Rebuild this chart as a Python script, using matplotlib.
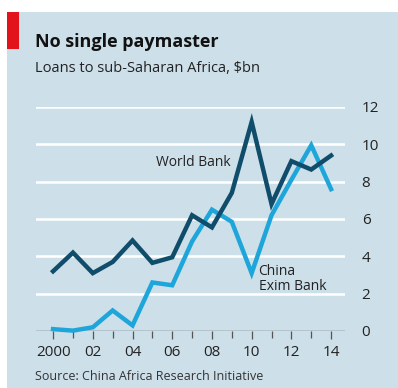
import matplotlib.pyplot as plt
from matplotlib.patches import Rectangle

years = list(range(2000, 2015))
world_bank = [3.2, 4.2, 3.1, 3.7, 4.85, 3.65, 3.95, 6.2, 5.55, 7.4, 11.2, 6.8, 9.1, 8.65, 9.4]
china_exim = [0.1, 0.02, 0.2, 1.1, 0.3, 2.6, 2.45, 4.8, 6.5, 5.85, 3.1, 6.2, 8.1, 9.95, 7.6]
xtick_years = [2000, 2002, 2004, 2006, 2008, 2010, 2012, 2014]
xtick_labels = ['2000', '02', '04', '06', '08', '10', '12', '14']
yticks = [0, 2, 4, 6, 8, 10, 12]

plt.rcParams['font.family'] = ['Open Sans', 'DejaVu Sans']

bg = '#cddfe9'
dark = '#0f4d6b'
light = '#1ea6da'
W, H = 398, 388

fig = plt.figure(figsize=(W / 100, H / 100), dpi=100, facecolor='white')
fig.patches.append(Rectangle((7 / W, 0), 1, 1 - 12 / H, transform=fig.transFigure,
                             facecolor=bg, edgecolor='none', zorder=-2))
fig.patches.append(Rectangle((7 / W, 1 - 49 / H), 12 / W, 37 / H, transform=fig.transFigure,
                             facecolor='#e3131b', edgecolor='none', zorder=-1))

ax = fig.add_axes([36 / W, 1 - 331 / H, (345 - 36) / W, (331 - 107) / H])
ax.set_facecolor('none')
ax.set_xlim(1999.14, 2014.7)
ax.set_ylim(0, 12)

for y in yticks[1:]:
    ax.axhline(y, color='white', lw=1.8, zorder=1)
ax.axhline(0, color='#555555', lw=1.0, zorder=2)

ax.plot(years, world_bank, color=dark, lw=3.2, zorder=4, solid_joinstyle='miter', clip_on=False)
ax.plot(years, china_exim, color=light, lw=3.2, zorder=3, solid_joinstyle='miter', clip_on=False)

for s in ax.spines.values():
    s.set_visible(False)

ax.set_xticks(years, minor=True)
ax.set_xticks(xtick_years)
ax.set_xticklabels(xtick_labels, fontsize=11, color='#222222')
ax.tick_params(axis='x', which='both', direction='out', length=5, width=0.9, color='#555555', pad=4)
ax.tick_params(axis='x', which='major', length=6)

ax.yaxis.tick_right()
ax.set_yticks(yticks)
ax.set_yticklabels([str(v) for v in yticks], fontsize=11, color='#222222')
ax.tick_params(axis='y', length=0, pad=12)
for lbl in ax.get_yticklabels():
    lbl.set_horizontalalignment('left')

ax.text(2008.95, 9.0, 'World Bank', fontsize=10, color='#222222', ha='right', va='center')
ax.text(2010.35, 3.6, 'China\nExim Bank', fontsize=10, color='#222222', ha='left', va='top',
        linespacing=1.05)

fig.text(35 / W, 1 - 42 / H, 'No single paymaster', fontsize=13, fontweight='bold',
         color='#111111', va='center', ha='left')
fig.text(35 / W, 1 - 68 / H, 'Loans to sub-Saharan Africa, $bn', fontsize=10.5,
         color='#222222', va='center', ha='left')
fig.text(35 / W, 1 - 377 / H, 'Source: China Africa Research Initiative', fontsize=9,
         color='#333333', va='center', ha='left')

fig.savefig('out.png', dpi=100, facecolor='white')
